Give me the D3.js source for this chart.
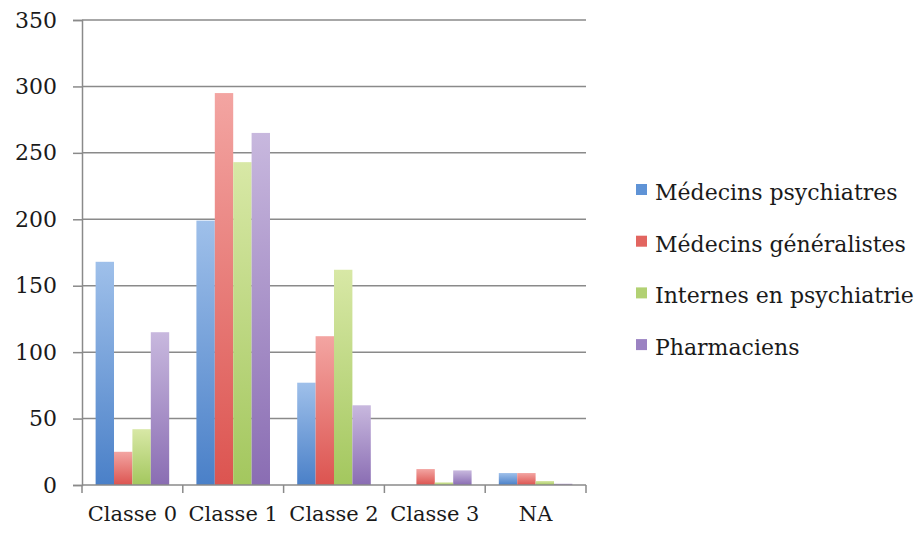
<!DOCTYPE html>
<html><head><meta charset="utf-8">
<script src="https://cdn.jsdelivr.net/npm/d3@7"></script>
<style>body{margin:0;background:#fff}</style>
</head><body>
<svg id="c" width="923" height="533"></svg>
<script>
const categories = ["Classe 0","Classe 1","Classe 2","Classe 3","NA"];
const seriesNames = ["Médecins psychiatres","Médecins généralistes","Internes en psychiatrie","Pharmaciens"];
const psychiatres   = [168, 199, 77, 0, 9];
const generalistes  = [25, 295, 112, 12, 9];
const internes      = [42, 243, 162, 2, 3];
const pharmaciens   = [115, 265, 60, 11, 1];
const yTicks = [0,50,100,150,200,250,300,350];

const seriesValues = [psychiatres, generalistes, internes, pharmaciens];
const colorsTop = ["#9fc0ea","#f3a5a2","#d8e8a6","#c8b8de"];
const colorsBot = ["#4a80c8","#dc5450","#a3c75e","#8a6db3"];
const legendColors = ["#5f93d6","#e26560","#b2d173","#9b82c2"];

const svg = d3.select("#c");
const font = "'DejaVu Serif', 'Liberation Serif', serif";
const m = {l:82, r:337, t:20, b:48};
const W = 923, H = 533;
const x0 = d3.scaleBand().domain(categories).range([m.l, W - m.r]).paddingInner(0.27).paddingOuter(0.135);
const x1 = d3.scaleBand().domain(d3.range(seriesNames.length)).range([0, x0.bandwidth()]);
const y = d3.scaleLinear().domain([0,350]).range([H - m.b, m.t]);

const defs = svg.append("defs");
seriesNames.forEach((s,i)=>{
  const g = defs.append("linearGradient").attr("id","g"+i).attr("x1",0).attr("y1",0).attr("x2",0).attr("y2",1);
  g.append("stop").attr("offset","0%").attr("stop-color",colorsTop[i]);
  g.append("stop").attr("offset","100%").attr("stop-color",colorsBot[i]);
});

// gridlines
svg.append("g").selectAll("line").data(yTicks.filter(d=>d>0)).join("line")
  .attr("x1", m.l).attr("x2", W - m.r).attr("y1", d=>y(d)).attr("y2", d=>y(d))
  .attr("stroke","#8a8a8a").attr("stroke-width",1.5);

// bars
const groups = svg.append("g").selectAll("g").data(categories).join("g")
  .attr("transform", d=>`translate(${x0(d)},0)`);
groups.selectAll("rect").data((d,ci)=>seriesValues.map((vals,si)=>({si, v: vals[ci]}))).join("rect")
  .attr("x", d=>x1(d.si)).attr("width", x1.bandwidth())
  .attr("y", d=>y(d.v)).attr("height", d=>y(0)-y(d.v))
  .attr("fill", d=>`url(#g${d.si})`);

// y axis
const yAxis = d3.axisLeft(y).tickValues(yTicks).tickSize(9).tickPadding(16);
const ya = svg.append("g").attr("transform",`translate(${m.l},0)`).call(yAxis);
ya.select(".domain").attr("stroke","#8a8a8a").attr("stroke-width",1.5);
ya.selectAll(".tick line").attr("stroke","#8a8a8a").attr("stroke-width",1.5);
ya.selectAll(".tick text").attr("font-family",font).attr("font-size",22).attr("fill","#1a1a1a");

// x axis
const xa = svg.append("g").attr("transform",`translate(0,${y(0)})`);
xa.append("line").attr("x1",m.l).attr("x2",W-m.r).attr("stroke","#8a8a8a").attr("stroke-width",1.5);
const step = (W - m.r - m.l)/categories.length;
xa.selectAll("line.t").data(d3.range(categories.length+1)).join("line").attr("class","t")
  .attr("x1",i=>m.l+i*step).attr("x2",i=>m.l+i*step).attr("y1",0).attr("y2",8)
  .attr("stroke","#8a8a8a").attr("stroke-width",1.5);
xa.selectAll("text").data(categories).join("text")
  .attr("x", d=>x0(d)+x0.bandwidth()/2).attr("y",36)
  .attr("text-anchor","middle").attr("font-family",font).attr("font-size",21).attr("fill","#1a1a1a")
  .text(d=>d);

// legend
const lg = svg.append("g").attr("transform","translate(636,193)");
const items = lg.selectAll("g").data(seriesNames).join("g").attr("transform",(d,i)=>`translate(0,${i*51.7})`);
items.append("rect").attr("x",0).attr("y",-9).attr("width",11).attr("height",11)
  .attr("fill",(d,i)=>legendColors[i]);
items.append("text").attr("x",19).attr("y",7).attr("font-family",font).attr("font-size",22).attr("fill","#1a1a1a").text(d=>d);
</script>
</body></html>
